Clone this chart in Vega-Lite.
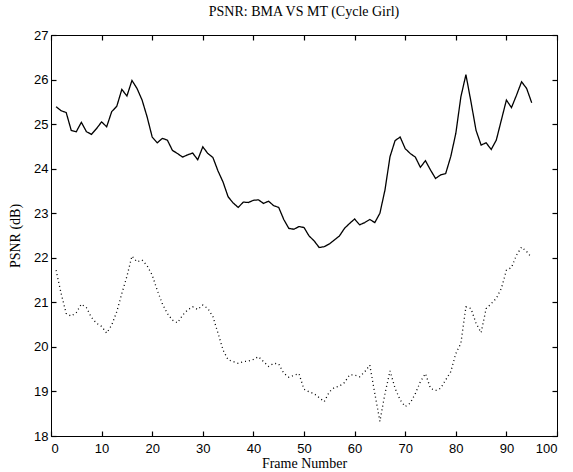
{
  "$schema": "https://vega.github.io/schema/vega-lite/v6.json",
  "width": 506,
  "height": 401,
  "autosize": {"type": "none"},
  "padding": {"left": 51, "top": 35, "right": 16, "bottom": 36},
  "background": "white",
  "title": {"text": "PSNR: BMA VS MT (Cycle Girl)", "font": "Liberation Serif", "fontSize": 14, "fontWeight": "normal", "color": "black", "offset": 10},
  "config": {
    "view": {"stroke": "black", "strokeWidth": 1},
    "axis": {"domainColor": "black", "tickColor": "black", "tickWidth": 1.2, "labelColor": "black", "titleColor": "black", "grid": false, "labelFont": "Liberation Sans", "labelFontSize": 13, "titleFont": "Liberation Serif", "titleFontSize": 14, "titleFontWeight": "normal"}
  },
  "datasets": {
    "psnr": [
      {"f":1,"v":25.39,"s":"MT"},{"f":2,"v":25.30,"s":"MT"},{"f":3,"v":25.26,"s":"MT"},{"f":4,"v":24.86,"s":"MT"},{"f":5,"v":24.83,"s":"MT"},
      {"f":6,"v":25.04,"s":"MT"},{"f":7,"v":24.83,"s":"MT"},{"f":8,"v":24.77,"s":"MT"},{"f":9,"v":24.90,"s":"MT"},{"f":10,"v":25.05,"s":"MT"},
      {"f":11,"v":24.94,"s":"MT"},{"f":12,"v":25.28,"s":"MT"},{"f":13,"v":25.40,"s":"MT"},{"f":14,"v":25.78,"s":"MT"},{"f":15,"v":25.63,"s":"MT"},
      {"f":16,"v":25.98,"s":"MT"},{"f":17,"v":25.80,"s":"MT"},{"f":18,"v":25.54,"s":"MT"},{"f":19,"v":25.16,"s":"MT"},{"f":20,"v":24.71,"s":"MT"},
      {"f":21,"v":24.58,"s":"MT"},{"f":22,"v":24.68,"s":"MT"},{"f":23,"v":24.64,"s":"MT"},{"f":24,"v":24.41,"s":"MT"},{"f":25,"v":24.34,"s":"MT"},
      {"f":26,"v":24.26,"s":"MT"},{"f":27,"v":24.31,"s":"MT"},{"f":28,"v":24.35,"s":"MT"},{"f":29,"v":24.20,"s":"MT"},{"f":30,"v":24.49,"s":"MT"},
      {"f":31,"v":24.34,"s":"MT"},{"f":32,"v":24.25,"s":"MT"},{"f":33,"v":23.95,"s":"MT"},{"f":34,"v":23.70,"s":"MT"},{"f":35,"v":23.37,"s":"MT"},
      {"f":36,"v":23.23,"s":"MT"},{"f":37,"v":23.13,"s":"MT"},{"f":38,"v":23.25,"s":"MT"},{"f":39,"v":23.24,"s":"MT"},{"f":40,"v":23.29,"s":"MT"},
      {"f":41,"v":23.30,"s":"MT"},{"f":42,"v":23.22,"s":"MT"},{"f":43,"v":23.27,"s":"MT"},{"f":44,"v":23.17,"s":"MT"},{"f":45,"v":23.13,"s":"MT"},
      {"f":46,"v":22.86,"s":"MT"},{"f":47,"v":22.66,"s":"MT"},{"f":48,"v":22.64,"s":"MT"},{"f":49,"v":22.70,"s":"MT"},{"f":50,"v":22.68,"s":"MT"},
      {"f":51,"v":22.49,"s":"MT"},{"f":52,"v":22.38,"s":"MT"},{"f":53,"v":22.23,"s":"MT"},{"f":54,"v":22.25,"s":"MT"},{"f":55,"v":22.31,"s":"MT"},
      {"f":56,"v":22.40,"s":"MT"},{"f":57,"v":22.49,"s":"MT"},{"f":58,"v":22.66,"s":"MT"},{"f":59,"v":22.77,"s":"MT"},{"f":60,"v":22.87,"s":"MT"},
      {"f":61,"v":22.74,"s":"MT"},{"f":62,"v":22.79,"s":"MT"},{"f":63,"v":22.86,"s":"MT"},{"f":64,"v":22.79,"s":"MT"},{"f":65,"v":23.00,"s":"MT"},
      {"f":66,"v":23.52,"s":"MT"},{"f":67,"v":24.27,"s":"MT"},{"f":68,"v":24.63,"s":"MT"},{"f":69,"v":24.71,"s":"MT"},{"f":70,"v":24.45,"s":"MT"},
      {"f":71,"v":24.34,"s":"MT"},{"f":72,"v":24.26,"s":"MT"},{"f":73,"v":24.03,"s":"MT"},{"f":74,"v":24.18,"s":"MT"},{"f":75,"v":23.97,"s":"MT"},
      {"f":76,"v":23.78,"s":"MT"},{"f":77,"v":23.86,"s":"MT"},{"f":78,"v":23.89,"s":"MT"},{"f":79,"v":24.27,"s":"MT"},{"f":80,"v":24.79,"s":"MT"},
      {"f":81,"v":25.61,"s":"MT"},{"f":82,"v":26.11,"s":"MT"},{"f":83,"v":25.50,"s":"MT"},{"f":84,"v":24.86,"s":"MT"},{"f":85,"v":24.53,"s":"MT"},
      {"f":86,"v":24.58,"s":"MT"},{"f":87,"v":24.43,"s":"MT"},{"f":88,"v":24.64,"s":"MT"},{"f":89,"v":25.09,"s":"MT"},{"f":90,"v":25.54,"s":"MT"},
      {"f":91,"v":25.37,"s":"MT"},{"f":92,"v":25.65,"s":"MT"},{"f":93,"v":25.95,"s":"MT"},{"f":94,"v":25.80,"s":"MT"},{"f":95,"v":25.48,"s":"MT"},
      {"f":1,"v":21.72,"s":"BMA"},{"f":2,"v":21.20,"s":"BMA"},{"f":3,"v":20.75,"s":"BMA"},{"f":4,"v":20.69,"s":"BMA"},{"f":5,"v":20.77,"s":"BMA"},
      {"f":6,"v":20.96,"s":"BMA"},{"f":7,"v":20.88,"s":"BMA"},{"f":8,"v":20.66,"s":"BMA"},{"f":9,"v":20.53,"s":"BMA"},{"f":10,"v":20.46,"s":"BMA"},
      {"f":11,"v":20.31,"s":"BMA"},{"f":12,"v":20.49,"s":"BMA"},{"f":13,"v":20.79,"s":"BMA"},{"f":14,"v":21.20,"s":"BMA"},{"f":15,"v":21.58,"s":"BMA"},
      {"f":16,"v":22.04,"s":"BMA"},{"f":17,"v":21.91,"s":"BMA"},{"f":18,"v":21.95,"s":"BMA"},{"f":19,"v":21.82,"s":"BMA"},{"f":20,"v":21.61,"s":"BMA"},
      {"f":21,"v":21.27,"s":"BMA"},{"f":22,"v":20.97,"s":"BMA"},{"f":23,"v":20.75,"s":"BMA"},{"f":24,"v":20.60,"s":"BMA"},{"f":25,"v":20.54,"s":"BMA"},
      {"f":26,"v":20.71,"s":"BMA"},{"f":27,"v":20.83,"s":"BMA"},{"f":28,"v":20.90,"s":"BMA"},{"f":29,"v":20.84,"s":"BMA"},{"f":30,"v":20.94,"s":"BMA"},
      {"f":31,"v":20.86,"s":"BMA"},{"f":32,"v":20.68,"s":"BMA"},{"f":33,"v":20.31,"s":"BMA"},{"f":34,"v":19.93,"s":"BMA"},{"f":35,"v":19.71,"s":"BMA"},
      {"f":36,"v":19.67,"s":"BMA"},{"f":37,"v":19.63,"s":"BMA"},{"f":38,"v":19.67,"s":"BMA"},{"f":39,"v":19.68,"s":"BMA"},{"f":40,"v":19.72,"s":"BMA"},
      {"f":41,"v":19.78,"s":"BMA"},{"f":42,"v":19.67,"s":"BMA"},{"f":43,"v":19.56,"s":"BMA"},{"f":44,"v":19.63,"s":"BMA"},{"f":45,"v":19.62,"s":"BMA"},
      {"f":46,"v":19.41,"s":"BMA"},{"f":47,"v":19.32,"s":"BMA"},{"f":48,"v":19.36,"s":"BMA"},{"f":49,"v":19.40,"s":"BMA"},{"f":50,"v":19.05,"s":"BMA"},
      {"f":51,"v":18.99,"s":"BMA"},{"f":52,"v":18.95,"s":"BMA"},{"f":53,"v":18.86,"s":"BMA"},{"f":54,"v":18.77,"s":"BMA"},{"f":55,"v":18.99,"s":"BMA"},
      {"f":56,"v":19.09,"s":"BMA"},{"f":57,"v":19.12,"s":"BMA"},{"f":58,"v":19.20,"s":"BMA"},{"f":59,"v":19.37,"s":"BMA"},{"f":60,"v":19.37,"s":"BMA"},
      {"f":61,"v":19.33,"s":"BMA"},{"f":62,"v":19.44,"s":"BMA"},{"f":63,"v":19.59,"s":"BMA"},{"f":64,"v":18.95,"s":"BMA"},{"f":65,"v":18.33,"s":"BMA"},
      {"f":66,"v":18.95,"s":"BMA"},{"f":67,"v":19.46,"s":"BMA"},{"f":68,"v":19.07,"s":"BMA"},{"f":69,"v":18.81,"s":"BMA"},{"f":70,"v":18.66,"s":"BMA"},
      {"f":71,"v":18.74,"s":"BMA"},{"f":72,"v":18.95,"s":"BMA"},{"f":73,"v":19.22,"s":"BMA"},{"f":74,"v":19.40,"s":"BMA"},{"f":75,"v":19.07,"s":"BMA"},
      {"f":76,"v":19.02,"s":"BMA"},{"f":77,"v":19.07,"s":"BMA"},{"f":78,"v":19.26,"s":"BMA"},{"f":79,"v":19.44,"s":"BMA"},{"f":80,"v":19.85,"s":"BMA"},
      {"f":81,"v":20.08,"s":"BMA"},{"f":82,"v":20.90,"s":"BMA"},{"f":83,"v":20.86,"s":"BMA"},{"f":84,"v":20.53,"s":"BMA"},{"f":85,"v":20.32,"s":"BMA"},
      {"f":86,"v":20.86,"s":"BMA"},{"f":87,"v":20.97,"s":"BMA"},{"f":88,"v":21.09,"s":"BMA"},{"f":89,"v":21.31,"s":"BMA"},{"f":90,"v":21.72,"s":"BMA"},
      {"f":91,"v":21.78,"s":"BMA"},{"f":92,"v":22.06,"s":"BMA"},{"f":93,"v":22.24,"s":"BMA"},{"f":94,"v":22.14,"s":"BMA"},{"f":95,"v":22.00,"s":"BMA"}
    ]
  },
  "data": {"name": "psnr"},
  "layer": [
    {
      "mark": {"type": "line", "color": "black", "strokeWidth": 1.3, "clip": true},
      "encoding": {
        "x": {"field": "f", "type": "quantitative", "scale": {"domain": [0, 100], "nice": false, "zero": false},
              "axis": {"title": "Frame Number", "orient": "bottom", "values": [0,10,20,30,40,50,60,70,80,90,100], "tickSize": -5, "labelPadding": 11, "titlePadding": 1, "domain": true}},
        "y": {"field": "v", "type": "quantitative", "scale": {"domain": [18, 27], "nice": false, "zero": false},
              "axis": {"title": "PSNR (dB)", "orient": "left", "values": [18,19,20,21,22,23,24,25,26,27], "tickSize": -5, "labelPadding": 8, "titlePadding": 11}},
        "strokeDash": {"field": "s", "type": "nominal", "scale": {"domain": ["MT", "BMA"], "range": [[1, 0], [1, 3]]}, "legend": null},
        "detail": {"field": "s"}
      }
    },
    {
      "mark": {"type": "line", "opacity": 0, "clip": true},
      "encoding": {
        "x": {"field": "f", "type": "quantitative", "axis": {"orient": "top", "title": null, "labels": false, "values": [0,10,20,30,40,50,60,70,80,90,100], "tickSize": -5}},
        "y": {"field": "v", "type": "quantitative", "axis": {"orient": "right", "title": null, "labels": false, "values": [18,19,20,21,22,23,24,25,26,27], "tickSize": -5}},
        "detail": {"field": "s"}
      }
    }
  ],
  "resolve": {"axis": {"x": "independent", "y": "independent"}}
}
